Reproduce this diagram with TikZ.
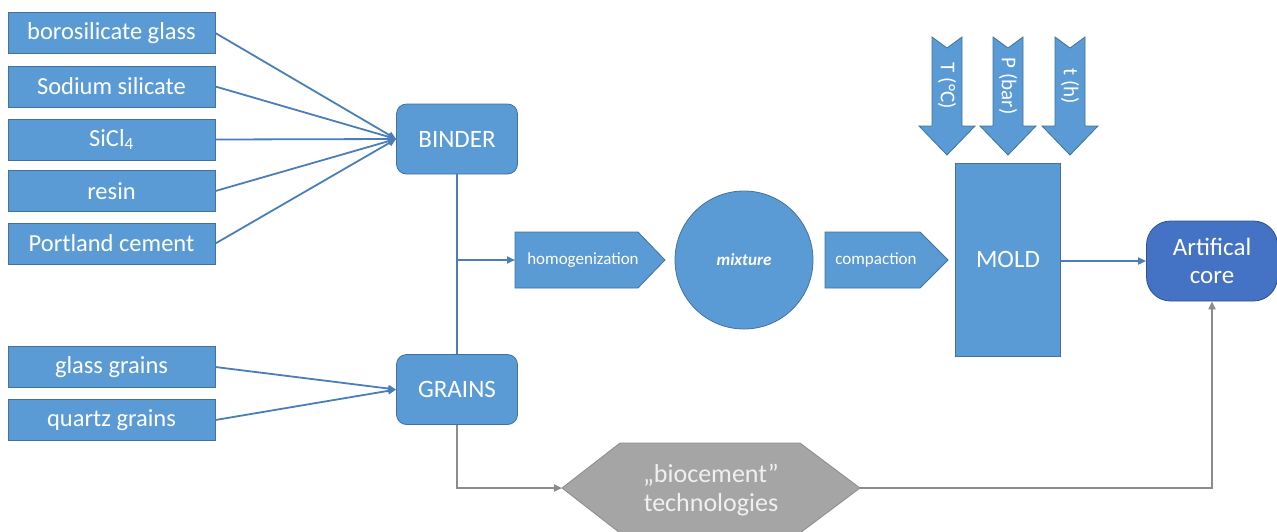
\documentclass[tikz,border=0pt]{standalone}
\usepackage{fontspec}
\setmainfont{Carlito}
\usetikzlibrary{arrows.meta}
\definecolor{bfill}{HTML}{5B9BD5}
\definecolor{bline}{HTML}{41719C}
\definecolor{cfill}{HTML}{4472C4}
\definecolor{cline}{HTML}{2F528F}
\definecolor{gfill}{HTML}{A5A5A5}
\definecolor{gline}{HTML}{8C8C8C}
\definecolor{connc}{HTML}{4A7EBB}
\definecolor{gtext}{HTML}{F0F0F0}
\begin{document}
\begin{tikzpicture}[x=1pt,y=-1pt,
  src/.style={draw=bline, fill=bfill, line width=0.8pt, minimum width=207pt, minimum height=41pt, inner sep=0pt, text=white, font=\fontsize{24.5}{28}\selectfont},
  hub/.style={draw=bline, fill=bfill, line width=0.8pt, rounded corners=10pt, minimum width=121pt, minimum height=70pt, inner sep=0pt, text=white, font=\fontsize{25}{30}\selectfont},
  shp/.style={draw=bline, fill=bfill, line width=0.8pt},
  small/.style={text=white, font=\fontsize{17}{20}\selectfont},
  bluearrow/.style={draw=connc, line width=1.8pt, -{Triangle[length=8pt,width=7pt]}},
  blueline/.style={draw=connc, line width=1.8pt},
  grayarrow/.style={draw=gline, line width=2.6pt, -{Triangle[length=8pt,width=7pt]}},
]
\useasboundingbox (0,0) rectangle (1277,531);

% source boxes
\node[src] (boro) at (111.5,33) {borosilicate glass};
\node[src] (sod)  at (111.5,86.5) {Sodium silicate};
\node[src] (sicl) at (111.5,139.5) {SiCl\textsubscript{4}};
\node[src] (res)  at (111.5,191) {resin};
\node[src] (port) at (111.5,243.5) {Portland cement};
\node[src] (glass) at (111.5,367) {glass grains};
\node[src] (quartz) at (111.5,420) {quartz grains};

% hubs
\node[hub] (binder) at (457,139) {BINDER};
\node[hub] (grains) at (457,389.5) {GRAINS};

% homogenization
\path[shp] (515,232) -- (638,232) -- (665,260) -- (638,288) -- (515,288) -- cycle;
\coordinate (homW) at (515,260);
\node[small] (homt) at (583,260) {homogenization};

% mixture
\node[shp, circle, minimum size=138pt, inner sep=0pt, text=white, font=\fontsize{17}{20}\selectfont\bfseries\itshape] (mix) at (744,260) {mixture};

% compaction
\path[shp] (825,232) -- (920,232) -- (948,260) -- (920,288) -- (825,288) -- cycle;
\node[small] (compt) at (876,260) {compaction};

% mold
\node[shp, minimum width=105pt, minimum height=193pt, inner sep=0pt, text=white, font=\fontsize{25}{30}\selectfont] (mold) at (1008,259.5) {MOLD};

% down arrows
\foreach \cx/\lab/\nm in {947/{T (°C)}/ta, 1008/{P (bar)}/pa, 1070/{t (h)}/ha}{
  \path[shp] (\cx-15,37) -- (\cx,48) -- (\cx+15,37) -- (\cx+15,126) -- (\cx+28,126) -- (\cx,155) -- (\cx-28,126) -- (\cx-15,126) -- cycle;
  \node[rotate=-90, text=white, font=\fontsize{21}{24}\selectfont] (\nm) at (\cx,86) {\lab};
}

% artificial core
\node[draw=cline, fill=cfill, line width=0.8pt, rounded corners=24pt, minimum width=131pt, minimum height=80pt, inner sep=0pt, align=center, text=white, font=\fontsize{25}{28}\selectfont] (core) at (1212,261) {Artifical\\core};

% biocement hexagon
\path[draw=gline, fill=gfill, line width=0.8pt] (562,488) -- (620,443) -- (800,443) -- (860,488) -- (800,533) -- (620,533) -- cycle;
\coordinate (hexW) at (562,488);
\coordinate (hexE) at (860,488);
\node[align=center, text=gtext, font=\fontsize{26}{29}\selectfont] (bio) at (711,490) {„biocement”\\technologies};

% connectors
\foreach \s in {boro,sod,sicl,res,port}{
  \draw[bluearrow] (\s.east) -- (binder.west);
}
\draw[bluearrow] (glass.east) -- (grains.west);
\draw[bluearrow] (quartz.east) -- (grains.west);
\draw[blueline] (binder.south) -- (grains.north);
\coordinate (br) at (457,260);
\draw[bluearrow] (br) -- (homW);
\draw[bluearrow] (mold.east |- core.west) -- (core.west);
\draw[grayarrow] (grains.south) |- (hexW);
\draw[grayarrow] (hexE) -| (core.south);
\end{tikzpicture}
\end{document}
